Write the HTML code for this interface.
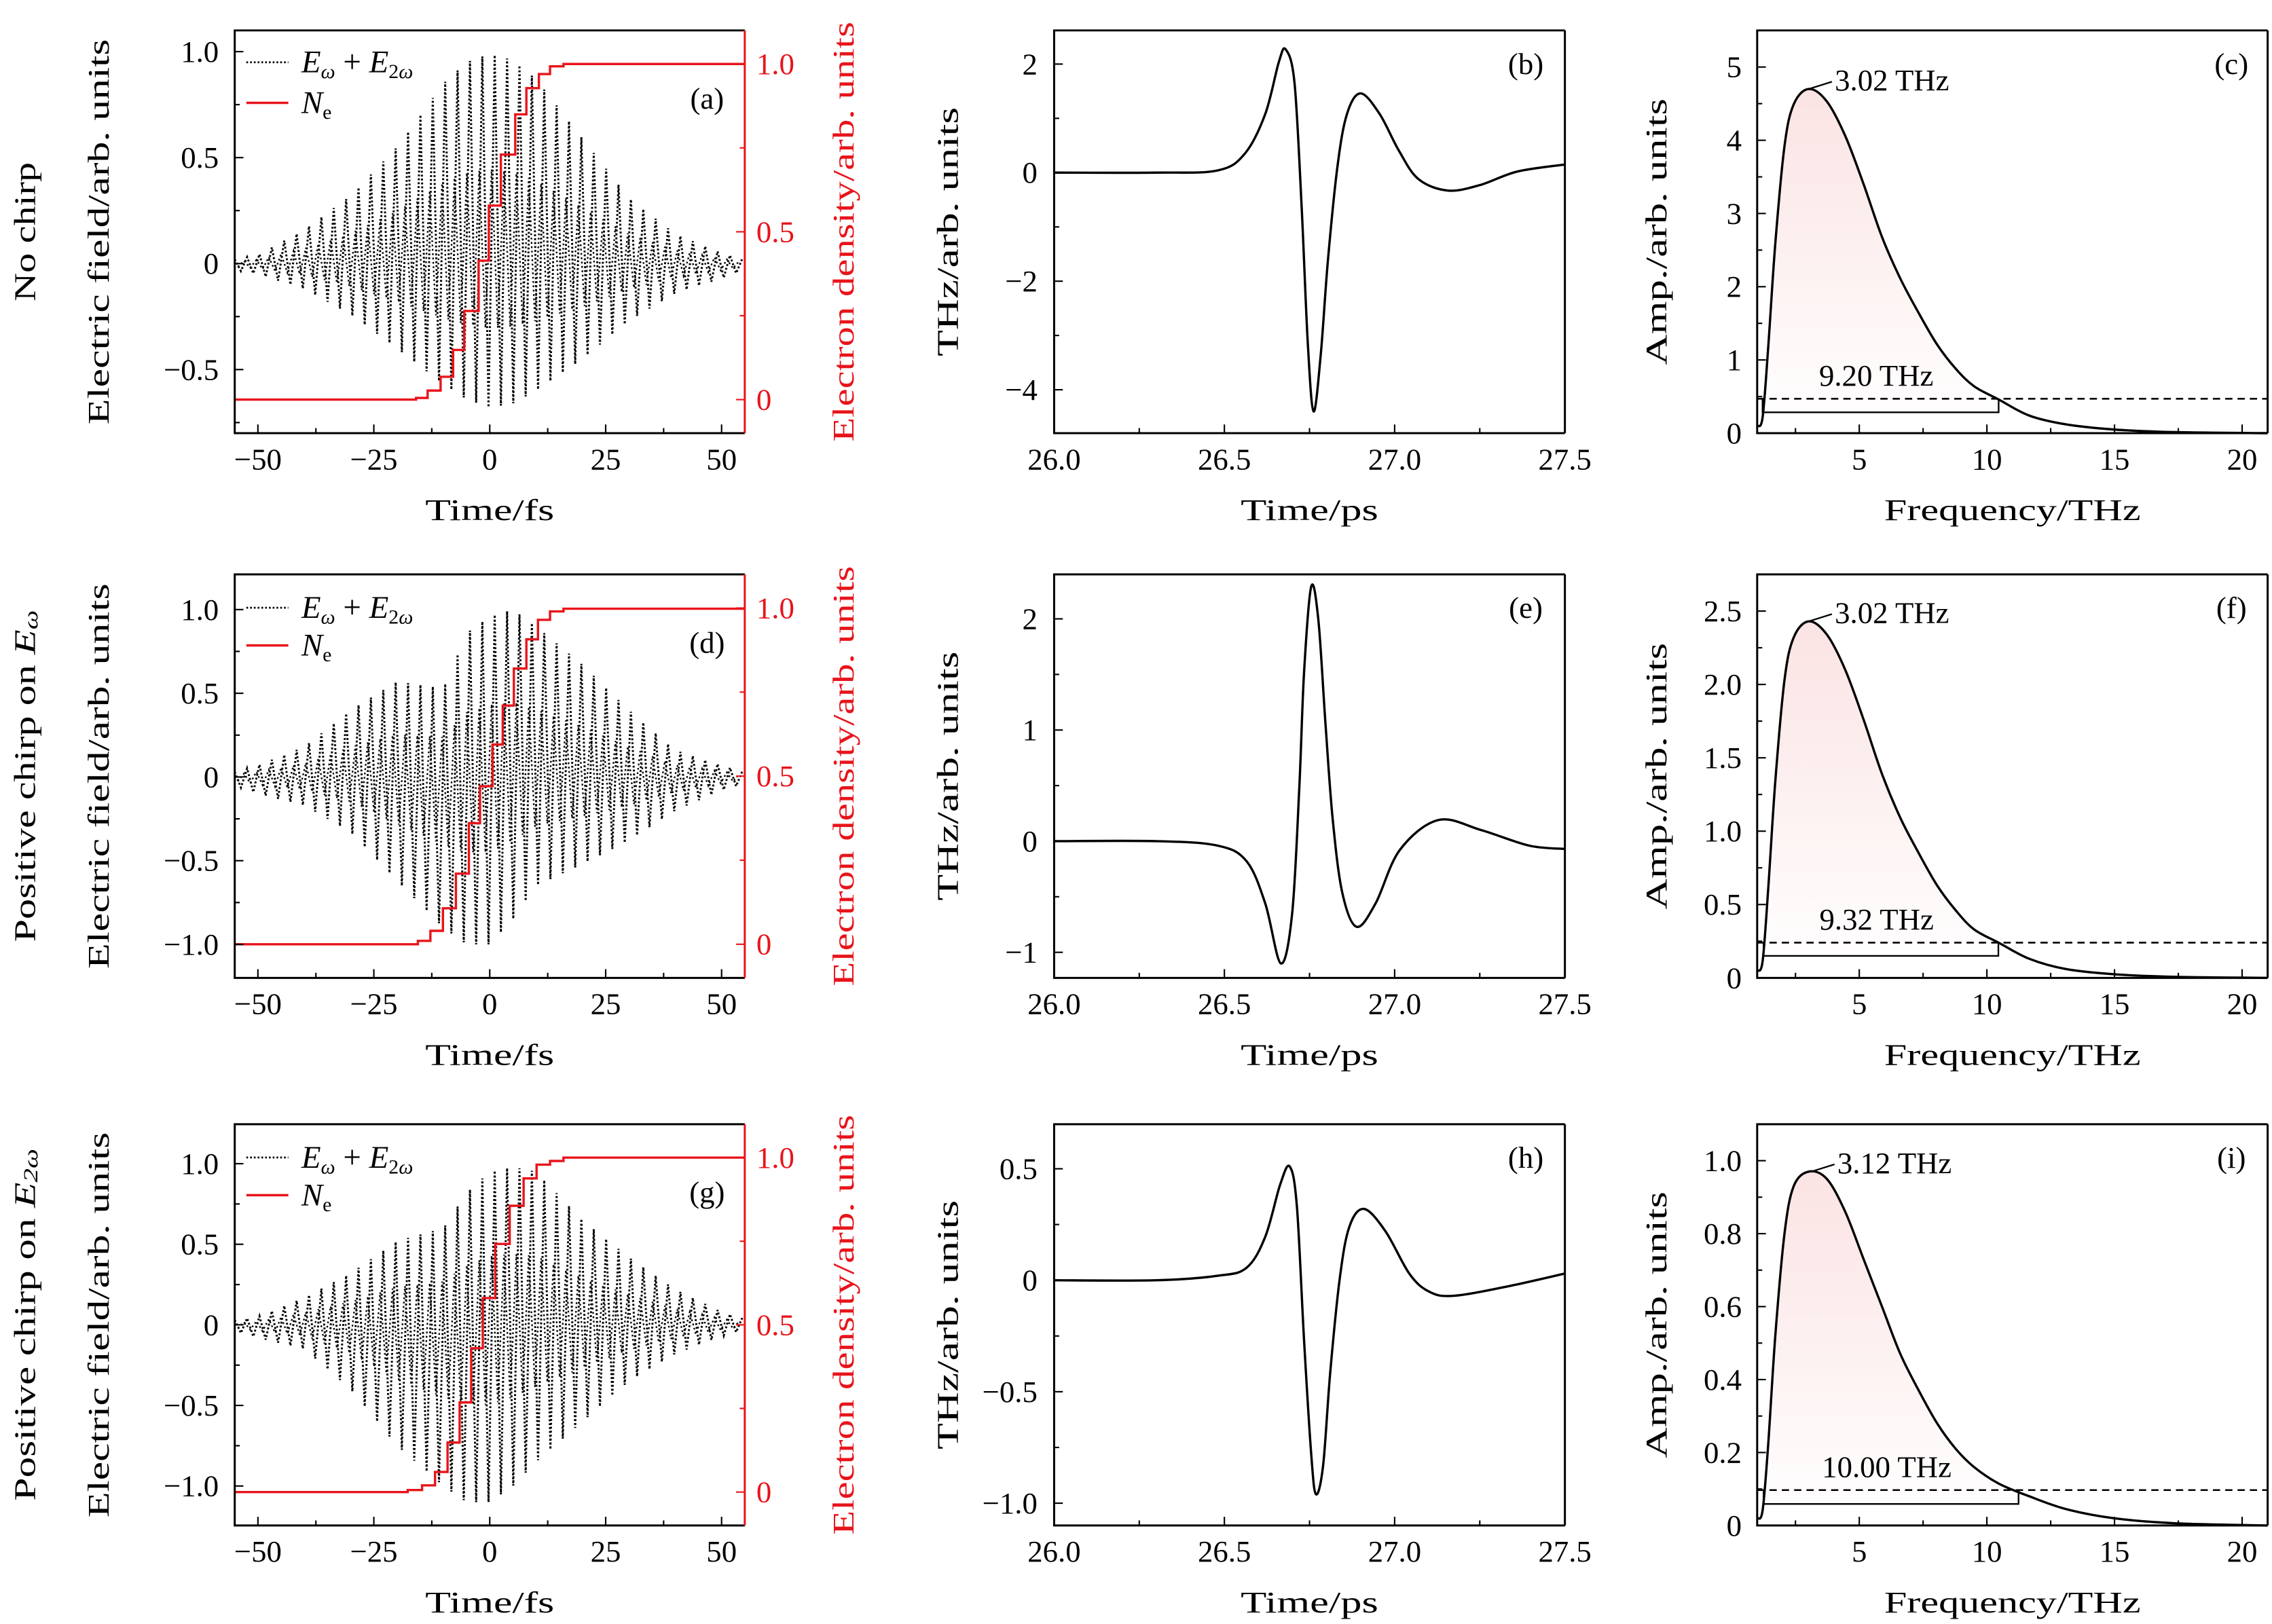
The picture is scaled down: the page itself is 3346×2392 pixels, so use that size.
<!DOCTYPE html>
<html><head><meta charset="utf-8"><style>
html,body{margin:0;padding:0;background:#fff}
svg{display:block}
text{font-family:"Liberation Serif",serif}
</style></head><body>
<svg id="fig" xmlns="http://www.w3.org/2000/svg" width="3346" height="2392" viewBox="0 0 1568 1121" preserveAspectRatio="none">
<defs>
<linearGradient id="pink" x1="0" y1="0" x2="0" y2="1">
<stop offset="0" stop-color="#fbe3e3"/><stop offset="1" stop-color="#ffffff"/>
</linearGradient>
</defs>
</svg>
<script>
// ---------- data ----------
const timeTicks=[-50,-25,0,25,50];
const envT=[-55,-50,-40,-30,-20,-10,-5,0,5,10,20,30,40,50,55];
const aUpper=[0.02,0.04,0.16,0.32,0.55,0.85,0.95,0.99,0.96,0.87,0.59,0.31,0.14,0.05,0.02];
const aLower=[-0.03,-0.05,-0.12,-0.24,-0.4,-0.57,-0.64,-0.68,-0.66,-0.6,-0.45,-0.27,-0.14,-0.07,-0.03];
const dUpper=[0.03,0.07,0.18,0.4,0.57,0.53,0.86,0.96,1.0,0.9,0.67,0.4,0.16,0.07,0.03];
const dLower=[-0.05,-0.1,-0.17,-0.33,-0.62,-0.9,-1.0,-1.0,-0.85,-0.65,-0.52,-0.38,-0.2,-0.08,-0.04];
const gUpper=[0.03,0.05,0.17,0.32,0.52,0.6,0.82,0.95,0.98,0.95,0.65,0.42,0.22,0.08,0.04];
const gLower=[-0.04,-0.08,-0.15,-0.4,-0.75,-1.0,-1.1,-1.1,-1.0,-0.85,-0.6,-0.35,-0.18,-0.07,-0.03];
const aNeT=[-55,-15.9,-13.4,-10.6,-7.9,-5.5,-2.4,-0.2,2.4,5.5,7.9,10.6,13.0,15.9];
const aNeV=[0,0.005,0.027,0.068,0.148,0.264,0.414,0.578,0.73,0.85,0.928,0.97,0.993,1.0];
const dNeT=[-55,-15.5,-12.8,-10.1,-7.3,-4.5,-2.1,0.6,2.8,5.2,7.9,10.4,13.0,15.9];
const dNeV=[0,0.01,0.04,0.107,0.21,0.36,0.47,0.594,0.71,0.82,0.907,0.965,0.99,0.998];
const gNeT=[-55,-17.7,-14.6,-11.8,-9.1,-6.5,-4.0,-1.5,1.2,4.3,7.3,10.1,13.0,15.9];
const gNeV=[0,0.006,0.02,0.06,0.148,0.268,0.43,0.58,0.742,0.856,0.938,0.979,0.99,1.0];
const psTicks=[26.0,26.5,27.0,27.5];
const bT=[26.0,26.3,26.48,26.56,26.62,26.66,26.68,26.706,26.727,26.745,26.762,26.783,26.804,26.832,26.86,26.90,26.956,27.012,27.07,27.156,27.25,27.36,27.5];
const bV=[0,0,0.04,0.35,1.08,2.04,2.27,1.65,-0.65,-3.15,-4.40,-3.35,-1.62,0.11,1.08,1.46,1.08,0.41,-0.12,-0.33,-0.23,0.02,0.15];
const eT=[26.0,26.3,26.48,26.565,26.62,26.666,26.699,26.72,26.734,26.755,26.776,26.797,26.818,26.846,26.888,26.944,27.015,27.128,27.254,27.395,27.5];
const eV=[0,0,-0.04,-0.18,-0.56,-1.10,-0.65,0.48,1.52,2.29,1.99,1.05,0.2,-0.46,-0.77,-0.56,-0.08,0.19,0.10,-0.04,-0.07];
const hT=[26.0,26.3,26.48,26.565,26.62,26.664,26.692,26.713,26.734,26.755,26.769,26.79,26.811,26.839,26.867,26.91,26.973,27.043,27.1,27.17,27.324,27.5];
const hV=[0,0,0.02,0.056,0.195,0.43,0.51,0.33,-0.27,-0.78,-0.96,-0.83,-0.41,0.01,0.24,0.32,0.22,0.03,-0.05,-0.07,-0.03,0.03];
const freq=[1.0,1.21,1.43,1.71,2.07,2.43,3.02,3.73,4.45,5.17,5.89,6.61,7.33,8.05,8.78,9.5,10.46,11.66,13.1,14.97,17.4,21];
const cAmp=[0.1,0.21,1.16,2.59,3.92,4.49,4.70,4.53,4.06,3.40,2.68,2.11,1.64,1.21,0.88,0.64,0.46,0.24,0.12,0.05,0.014,0];
const fAmp=[0.05,0.11,0.60,1.34,2.03,2.32,2.43,2.34,2.10,1.76,1.39,1.09,0.85,0.63,0.46,0.33,0.24,0.13,0.06,0.025,0.007,0];
const iAmp=[0.02,0.04,0.22,0.52,0.80,0.93,0.97,0.95,0.86,0.73,0.60,0.47,0.37,0.28,0.21,0.16,0.115,0.08,0.045,0.02,0.006,0];
const freqTicks=[5,10,15,20];
const cDash=0.47, fDash=0.24, iDash=0.097;
const cBracket=[1.21,10.46,0.285], fBracket=[1.25,10.45,0.15], iBracket=[1.25,11.24,0.059];
const cPeakLabel="3.02 THz", fPeakLabel="3.02 THz", iPeakLabel="3.12 THz";
const cBwLabel="9.20 THz", fBwLabel="9.32 THz", iBwLabel="10.00 THz";
const cPeakF=3.02, fPeakF=3.02, iPeakF=3.12;

// ---------- helpers ----------
const NS='http://www.w3.org/2000/svg';
const svg=document.getElementById('fig');
const FS=21;
function mk(tag,parent){const e=document.createElementNS(NS,tag);parent.appendChild(e);return e;}
function set(e,o){for(const k in o)e.setAttribute(k,o[k]);return e;}
function lin(d0,d1,p0,p1){return v=>p0+(v-d0)/(d1-d0)*(p1-p0);}
function interp(xs,ys,x){if(x<=xs[0])return ys[0];for(let i=1;i<xs.length;i++){if(x<=xs[i]){const t=(x-xs[i-1])/(xs[i]-xs[i-1]);return ys[i-1]+t*(ys[i]-ys[i-1]);}}return ys[ys.length-1];}
function smoothPath(pts){let d='M'+pts[0][0].toFixed(2)+','+pts[0][1].toFixed(2);
 for(let i=0;i<pts.length-1;i++){const p0=pts[i-1]||pts[i],p1=pts[i],p2=pts[i+1],p3=pts[i+2]||p2;
  const c1=[p1[0]+(p2[0]-p0[0])/6,p1[1]+(p2[1]-p0[1])/6],c2=[p2[0]-(p3[0]-p1[0])/6,p2[1]-(p3[1]-p1[1])/6];
  d+='C'+c1[0].toFixed(2)+','+c1[1].toFixed(2)+' '+c2[0].toFixed(2)+','+c2[1].toFixed(2)+' '+p2[0].toFixed(2)+','+p2[1].toFixed(2);}
 return d;}
function fmt(v,dec){const s=Math.abs(v).toFixed(dec);return (v<0?'\u2212':'')+s;}
function txt(g,x,y,s,size,anchor,color){const t=mk('text',g);set(t,{x:x,y:y,'font-size':size,'text-anchor':anchor||'middle',fill:color||'#000'});t.textContent=s;return t;}
function vtxt(g,x,y,s,size,len,color){const t=mk('text',g);set(t,{x:0,y:0,'font-size':size,'text-anchor':'middle','dominant-baseline':'central',fill:color||'#000',transform:'translate('+x+','+y+') rotate(-90)',textLength:len,lengthAdjust:'spacingAndGlyphs'});t.textContent=s;return t;}

function frame(g,X0,X1,Y0,Y1,rightColor){
 const f=mk('path',g);set(f,{d:'M'+X1+','+Y0+'H'+X0+'V'+Y1+'H'+X1,fill:'none',stroke:'#000','stroke-width':1.4});
 
 
 const r=mk('line',g);set(r,{x1:X1,y1:Y0,x2:X1,y2:Y1,stroke:rightColor||'#000','stroke-width':1.4});
 
 
}
function xTicks(g,sx,Y1,ticks,minorStep,lo,hi,dec,labelY,title,titleY,titleLen){
 for(let v=Math.ceil(lo/minorStep)*minorStep;v<=hi+1e-9;v+=minorStep){
  const major=ticks.some(t=>Math.abs(t-v)<1e-6);
  const l=mk('line',g);set(l,{x1:sx(v),x2:sx(v),y1:Y1,y2:Y1-(major?6:3.5),stroke:'#000','stroke-width':1});
  
  
 }
 ticks.forEach(v=>{const t=txt(g,sx(v),labelY,fmt(v,dec),FS);
  
  });
 const tt=txt(g,(sx(lo)+sx(hi))/2,titleY,title,FS);
 set(tt,{textLength:titleLen,lengthAdjust:'spacingAndGlyphs'});
 
 
}
function yTicks(g,sy,X,dir,ticks,minorStep,lo,hi,dec,labelX,anchor,color){
 for(let v=Math.ceil(lo/minorStep-1e-9)*minorStep;v<=hi+1e-9;v+=minorStep){
  const major=ticks.some(t=>Math.abs(t-v)<1e-6);
  const l=mk('line',g);set(l,{x1:X,x2:X+dir*(major?6:3.5),y1:sy(v),y2:sy(v),stroke:color||'#000','stroke-width':1});
  
  
 }
 ticks.forEach(v=>{const t=txt(g,labelX,sy(v)+7,(Math.abs(v)<1e-9?'0':fmt(v,dec)),FS,anchor,color);
  
  });
}

// ---------- left column ----------
const LX0=162,LX1=514;
const rowsY=[[21,299],[396.5,675],[776,1053]];
const leftPanels=[
 {lab:'(a)',up:aUpper,lo:aLower,neT:aNeT,neV:aNeV,yr:[-0.8,1.1],ticks:[-0.5,0,0.5,1.0],row:'No chirp',rowLen:96,sub:''},
 {lab:'(d)',up:dUpper,lo:dLower,neT:dNeT,neV:dNeV,yr:[-1.2,1.21],ticks:[-1.0,-0.5,0,0.5,1.0],row:'Positive chirp on ',rowLen:229,sub:'\u03c9'},
 {lab:'(g)',up:gUpper,lo:gLower,neT:gNeT,neV:gNeV,yr:[-1.245,1.245],ticks:[-1.0,-0.5,0,0.5,1.0],row:'Positive chirp on ',rowLen:243,sub:'2\u03c9'}
];
leftPanels.forEach((P,i)=>{
 const [Y0,Y1]=rowsY[i];
 const g=mk('g',svg);
 
 
 const sx=lin(-55,55,LX0,LX1), sy=lin(P.yr[0],P.yr[1],Y1,Y0), sy2=lin(-0.1,1.1,Y1,Y0);
 const T=2.67;let pts=[];let k=0;
 for(let t=-55;t<=55;t+=T/2,k++){pts.push([sx(t),sy(interp(envT,k%2?P.lo:P.up,t))]);}
 const f1=mk('path',g);set(f1,{d:'M'+pts.map(p=>p[0].toFixed(2)+','+p[1].toFixed(2)).join('L'),fill:'none',stroke:'#000','stroke-width':1.4,'stroke-dasharray':'1.3 1.4'});
 
 
 let pts2=[];k=0;
 for(let t=-55+T/4;t<=55;t+=T/2,k++){const v=interp(envT,k%2?P.up:P.lo,t)*0.45;pts2.push([sx(t),sy(v)]);}
 const f2=mk('path',g);set(f2,{d:'M'+pts2.map(p=>p[0].toFixed(2)+','+p[1].toFixed(2)).join('L'),fill:'none',stroke:'#000','stroke-width':1.1,'stroke-dasharray':'1.2 1.8'});
 
 
 let d='M'+sx(P.neT[0])+','+sy2(P.neV[0]);
 for(let j=1;j<P.neT.length;j++){d+='H'+sx(P.neT[j]).toFixed(2)+'V'+sy2(P.neV[j]).toFixed(2);}
 d+='H'+sx(55);
 const ne=mk('path',g);set(ne,{d:d,fill:'none',stroke:'#e8141b','stroke-width':1.6});
 
 
 frame(g,LX0,LX1,Y0,Y1,'#e8141b');
 xTicks(g,sx,Y1,timeTicks,12.5,-55,55,0,Y1+25,'Time/fs',Y1+60,89);
 yTicks(g,sy,LX0,1,P.ticks,0.25,P.yr[0],P.yr[1],1,151,'end');
 yTicks(g,sy2,LX1,-1,[0,0.5,1.0],0.25,-0.1,1.1,1,522,'start','#e8141b');
 const yt=vtxt(g,68,(Y0+Y1)/2,'Electric field/arb. units',21,266);
 
 
 const rt=vtxt(g,582,(Y0+Y1)/2,'Electron density/arb. units',21,290,'#e8141b');
 
 
 const rl=vtxt(g,17,(Y0+Y1)/2,'',21,P.rowLen);
 rl.textContent='';
 const s1=mk('tspan',rl);s1.textContent=P.row;
 if(P.sub){const s2=mk('tspan',rl);s2.setAttribute('font-style','italic');s2.textContent='E';const s3=mk('tspan',rl);set(s3,{'font-size':14,dy:4,'font-style':'italic'});s3.textContent=P.sub;}
 else rl.textContent=P.row;
 
 
 const ly1=Y0+(i==0?22:23), ly2=Y0+(i==0?50:49);
 const l1=mk('line',g);set(l1,{x1:170,x2:199,y1:ly1,y2:ly1,stroke:'#000','stroke-width':1.3,'stroke-dasharray':'1.2 1.4'});
 
 
 const lt=mk('text',g);set(lt,{x:208,y:ly1+7,'font-size':22});
 lt.innerHTML='<tspan font-style="italic">E</tspan><tspan font-size="14" dy="4" font-style="italic">\u03c9</tspan><tspan dy="-4"> + </tspan><tspan font-style="italic">E</tspan><tspan font-size="14" dy="4">2<tspan font-style="italic">\u03c9</tspan></tspan>';
 
 
 const l2=mk('line',g);set(l2,{x1:170,x2:199,y1:ly2,y2:ly2,stroke:'#e8141b','stroke-width':1.6});
 
 
 const lt2=mk('text',g);set(lt2,{x:208,y:ly2+7,'font-size':22});
 lt2.innerHTML='<tspan font-style="italic">N</tspan><tspan font-size="14" dy="4">e</tspan>';
 
 
 const pl=txt(g,488,Y0+54,P.lab,FS);
 
 
});

// ---------- middle column ----------
const MX0=727.5,MX1=1080;
const midPanels=[
 {lab:'(b)',t:bT,v:bV,yr:[-4.8,2.62],ticks:[-4,-2,0,2],minor:1,dec:0},
 {lab:'(e)',t:eT,v:eV,yr:[-1.23,2.4],ticks:[-1,0,1,2],minor:0.5,dec:0},
 {lab:'(h)',t:hT,v:hV,yr:[-1.1,0.7],ticks:[-1.0,-0.5,0,0.5],minor:0.25,dec:1}
];
midPanels.forEach((P,i)=>{
 const [Y0,Y1]=rowsY[i];
 const g=mk('g',svg);
 
 
 const sx=lin(26.0,27.5,MX0,MX1), sy=lin(P.yr[0],P.yr[1],Y1,Y0);
 const p=mk('path',g);set(p,{d:smoothPath(P.t.map((t,j)=>[sx(t),sy(P.v[j])])),fill:'none',stroke:'#000','stroke-width':1.6});
 
 
 frame(g,MX0,MX1,Y0,Y1);
 xTicks(g,sx,Y1,psTicks,0.25,26.0,27.5,1,Y1+25,'Time/ps',Y1+60,95);
 yTicks(g,sy,MX0,1,P.ticks,P.minor,P.yr[0],P.yr[1],P.dec,716,'end');
 const yt=vtxt(g,654,(Y0+Y1)/2,'THz/arb. units',21,172);
 
 
 const pl=txt(g,1053,Y0+30,P.lab,FS);
 
 
});

// ---------- right column ----------
const RX0=1212.7,RX1=1565;
const rightPanels=[
 {lab:'(c)',a:cAmp,yr:[0,5.5],ticks:[0,1,2,3,4,5],minor:0.5,dec:0,dash:cDash,br:cBracket,pk:cPeakLabel,pf:cPeakF,bw:cBwLabel},
 {lab:'(f)',a:fAmp,yr:[0,2.75],ticks:[0,0.5,1.0,1.5,2.0,2.5],minor:0.25,dec:1,dash:fDash,br:fBracket,pk:fPeakLabel,pf:fPeakF,bw:fBwLabel},
 {lab:'(i)',a:iAmp,yr:[0,1.1],ticks:[0,0.2,0.4,0.6,0.8,1.0],minor:0.1,dec:1,dash:iDash,br:iBracket,pk:iPeakLabel,pf:iPeakF,bw:iBwLabel}
];
rightPanels.forEach((P,i)=>{
 const [Y0,Y1]=rowsY[i];
 const g=mk('g',svg);
 
 
 const sx=lin(1,21,RX0,RX1), sy=lin(P.yr[0],P.yr[1],Y1,Y0);
 const pts=freq.map((f,j)=>[sx(f),sy(P.a[j])]);
 const cut=freq.findIndex(f=>f>=P.br[1]);
 const fillPts=pts.slice(0,cut+1);
 const fp=mk('path',g);set(fp,{d:smoothPath(fillPts)+'L'+fillPts[fillPts.length-1][0]+','+sy(P.br[2])+'L'+fillPts[0][0]+','+sy(P.br[2])+'Z',fill:'url(#pink)',stroke:'none'});
 
 
 const p=mk('path',g);set(p,{d:smoothPath(pts),fill:'none',stroke:'#000','stroke-width':1.6});
 
 
 const dl=mk('line',g);set(dl,{x1:RX0,x2:RX1,y1:sy(P.dash),y2:sy(P.dash),stroke:'#000','stroke-width':1.2,'stroke-dasharray':'5 3.5'});
 
 
 const br=mk('path',g);set(br,{d:'M'+sx(P.br[0])+','+sy(P.dash)+'V'+sy(P.br[2])+'H'+sx(P.br[1])+'V'+sy(P.dash),fill:'none',stroke:'#000','stroke-width':1.1});
 
 
 const bl=txt(g,(sx(P.br[0])+sx(P.br[1]))/2-3,sy(P.dash)-9,P.bw,FS);
 
 
 const pkA=Math.max(...P.a);
 const ld=mk('line',g);set(ld,{x1:sx(P.pf),y1:sy(pkA),x2:sx(P.pf)+16,y2:sy(pkA)-5,stroke:'#000','stroke-width':1.1});
 
 
 const pk=txt(g,sx(P.pf)+18,sy(pkA)+1,P.pk,FS,'start');
 
 
 frame(g,RX0,RX1,Y0,Y1);
 xTicks(g,sx,Y1,freqTicks,2.5,1,21,0,Y1+25,'Frequency/THz',Y1+60,177);
 yTicks(g,sy,RX0,1,P.ticks,P.minor,P.yr[0],P.yr[1],P.dec,1202,'end');
 const yt=vtxt(g,1143,(Y0+Y1)/2,'Amp./arb. units',21,184);
 
 
 const pl=txt(g,1540,Y0+30,P.lab,FS);
 
 
});
</script>
</body></html>
